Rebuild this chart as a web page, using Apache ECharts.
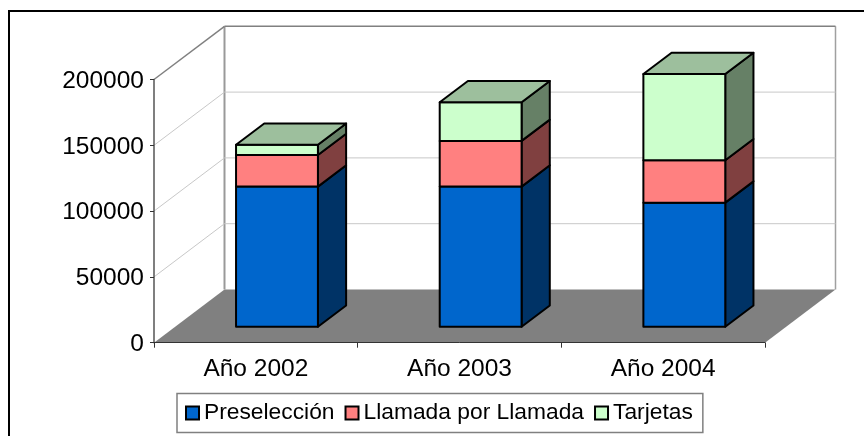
<!DOCTYPE html>
<html>
<head>
<meta charset="utf-8">
<style>html,body{margin:0;padding:0;background:#fff}#c{width:864px;height:436px}</style>
<script src="https://cdn.jsdelivr.net/npm/echarts@6/dist/echarts.min.js"></script>
</head>
<body>
<div id="c"></div>
<script>
const categories = ['Año 2002', 'Año 2003', 'Año 2004'];
const preseleccion = [106500, 106500, 94300];
const llamada = [24000, 34700, 32200];
const tarjetas = [7800, 29400, 65500];
const yTicks = [0, 50000, 100000, 150000, 200000];

const DX = 70.5, DY = -53.2;            // oblique projection of the full chart depth
const Z0 = 0.3, Z1 = 0.7, BAR = 0.402;  // bar placement in depth and band width
const FONT = '"Liberation Sans", Arial, sans-serif';

const stacks = [
  {name: 'Preselección', values: preseleccion, front: '#0066CC', side: '#003366', top: '#336699'},
  {name: 'Llamada por Llamada', values: llamada, front: '#FF8080', side: '#804040', top: '#BF6060'},
  {name: 'Tarjetas', values: tarjetas, front: '#CCFFCC', side: '#668066', top: '#9DBF9D'}
];

let running = categories.map(() => 0);
const barSeries = stacks.map((s, si) => {
  const data = s.values.map((v, i) => {
    const item = [i, running[i], running[i] + v];
    running[i] += v;
    return item;
  });
  const isTop = si === stacks.length - 1;
  return {
    type: 'custom',
    name: s.name,
    z: 5 + si,
    silent: true,
    clip: false,
    itemStyle: {color: s.front, borderColor: '#000', borderWidth: 1.5},
    encode: {x: 0, y: [1, 2]},
    data,
    renderItem(params, api) {
      const band = api.size([1, 0])[0];
      const c0 = api.coord([api.value(0), api.value(1)]);
      const c1 = api.coord([api.value(0), api.value(2)]);
      const xl = c0[0] - band * BAR / 2 + Z0 * DX;
      const xr = c0[0] + band * BAR / 2 + Z0 * DX;
      const yb = c0[1] + Z0 * DY;
      const yt = c1[1] + Z0 * DY;
      const ox = (Z1 - Z0) * DX, oy = (Z1 - Z0) * DY;
      const line = {stroke: '#000', lineWidth: 2, lineJoin: 'round'};
      const children = [
        {type: 'polygon', shape: {points: [[xr, yb], [xr + ox, yb + oy], [xr + ox, yt + oy], [xr, yt]]},
         style: Object.assign({fill: s.side}, line)},
        {type: 'rect', shape: {x: xl, y: yt, width: xr - xl, height: yb - yt},
         style: Object.assign({fill: s.front}, line)}
      ];
      if (isTop) {
        children.push({type: 'polygon', shape: {points: [[xl, yt], [xr, yt], [xr + ox, yt + oy], [xl + ox, yt + oy]]},
          style: Object.assign({fill: s.top}, line)});
      }
      return {type: 'group', children};
    }
  };
});

const wallSeries = [{
  type: 'custom',
  name: 'grid',
  z: 1,
  silent: true,
  clip: false,
  data: yTicks.map(v => [0, v]),
  encode: {x: 0, y: 1},
  renderItem(params, api) {
    const cs = params.coordSys;
    const y = api.coord([0, api.value(1)])[1];
    const x0 = cs.x, x1 = cs.x + cs.width;
    const v = api.value(1);
    const maxTick = yTicks[yTicks.length - 1];
    const children = [];
    if (v === 0) {
      children.push({type: 'polygon', shape: {points: [[x0, y], [x1, y], [x1 + DX, y + DY], [x0 + DX, y + DY]]},
        style: {fill: '#808080', stroke: 'none'}});
      children.push({type: 'line', shape: {x1: x0 + DX, y1: y + DY, x2: x0 + DX, y2: cs.y + DY},
        style: {stroke: '#999999', lineWidth: 2}});
      children.push({type: 'line', shape: {x1: x1 + DX, y1: y + DY, x2: x1 + DX, y2: cs.y + DY},
        style: {stroke: '#A0A0A0', lineWidth: 1.5}});
    } else {
      const top = v === maxTick;
      const col = top ? '#808080' : '#C8C8C8';
      children.push({type: 'line', shape: {x1: x0, y1: y, x2: x0 + DX, y2: y + DY},
        style: {stroke: col, lineWidth: top ? 1.5 : 1}});
      children.push({type: 'line', shape: {x1: x0 + DX, y1: y + DY, x2: x1 + DX, y2: y + DY},
        style: {stroke: col, lineWidth: top ? 1.5 : 1}});
    }
    return {type: 'group', children};
  }
}];

const chart = echarts.init(document.getElementById('c'), null, {renderer: 'canvas'});
chart.setOption({
  animation: false,
  backgroundColor: '#fff',
  textStyle: {fontFamily: FONT},
  graphic: [{
    type: 'rect', silent: true, z: 0,
    shape: {x: 9, y: 11, width: 1000, height: 1000},
    style: {fill: 'none', stroke: '#000', lineWidth: 2}
  }],
  grid: {left: 154, top: 79.5, width: 611, height: 263.2, containLabel: false},
  legend: {
    left: 177, top: 393.5,
    data: stacks.map(s => s.name),
    icon: 'rect',
    itemWidth: 13, itemHeight: 13, itemGap: 10,
    padding: [8, 10, 8, 8],
    backgroundColor: '#fff',
    borderColor: '#808080', borderWidth: 1.5,
    textStyle: {color: '#000', fontSize: 22.8, fontFamily: FONT}
  },
  xAxis: {
    type: 'category', data: categories, z: 4,
    axisLine: {lineStyle: {color: '#333', width: 1}},
    axisTick: {show: true, length: 5, lineStyle: {color: '#333', width: 1}},
    axisLabel: {color: '#000', fontSize: 24.5, margin: 14, fontFamily: FONT},
    splitLine: {show: false}
  },
  yAxis: {
    type: 'value', min: 0, max: 200000, interval: 50000, z: 4,
    axisLine: {show: true, lineStyle: {color: '#555', width: 1.5}},
    axisTick: {show: true, length: 4, lineStyle: {color: '#333', width: 1}},
    axisLabel: {color: '#000', fontSize: 24.5, margin: 10, fontFamily: FONT,
      verticalAlign: 'top', lineHeight: 3, formatter: v => String(v)},
    splitLine: {show: false}
  },
  series: wallSeries.concat(barSeries)
});
</script>
</body>
</html>
